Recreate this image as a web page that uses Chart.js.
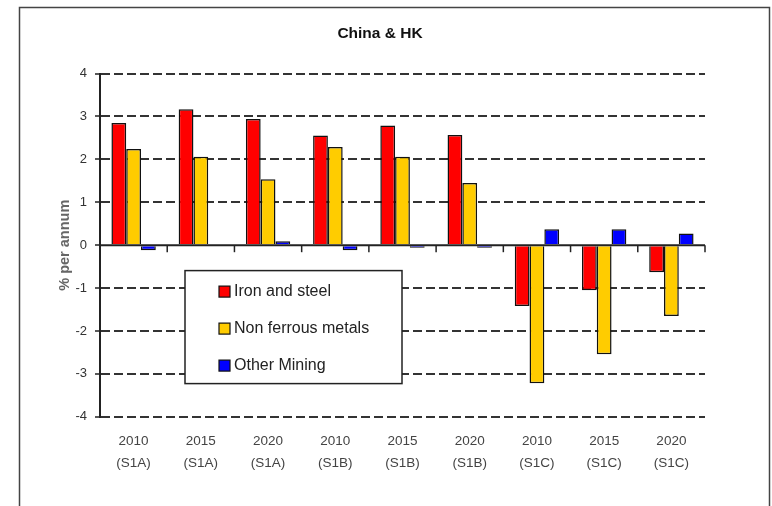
<!DOCTYPE html>
<html>
<head>
<meta charset="utf-8">
<title>China & HK</title>
<script src="https://cdn.jsdelivr.net/npm/chart.js@4/dist/chart.umd.min.js"></script>
<style>
  html, body { margin: 0; padding: 0; background: #ffffff; }
  #wrap { width: 772px; height: 506px; }
</style>
</head>
<body>
<div id="wrap"><canvas id="c" width="772" height="506"></canvas></div>
<script>
// Scenario / year categories (two-line tick labels)
const categories = [
  ['2010', '(S1A)'], ['2015', '(S1A)'], ['2020', '(S1A)'],
  ['2010', '(S1B)'], ['2015', '(S1B)'], ['2020', '(S1B)'],
  ['2010', '(S1C)'], ['2015', '(S1C)'], ['2020', '(S1C)']
];

// Growth rates, % per annum
const ironAndSteel      = [2.85, 3.17, 2.94, 2.56, 2.79, 2.57, -1.42, -1.05, -0.63];
const nonFerrousMetals  = [2.24, 2.06, 1.54, 2.29, 2.06, 1.45, -3.22, -2.54, -1.65];
const otherMining       = [-0.12, 0, 0.09, -0.12, -0.06, -0.06, 0.37, 0.37, 0.27];

const seriesNames = ['Iron and steel', 'Non ferrous metals', 'Other Mining'];
const yTicks = { min: -4, max: 4, step: 1 };

const FONT = '"Liberation Sans", Arial, Helvetica, sans-serif';

// Outer frame around the whole figure
const framePlugin = {
  id: 'frame',
  beforeDraw(chart) {
    const ctx = chart.ctx;
    ctx.save();
    ctx.fillStyle = '#ffffff';
    ctx.fillRect(0, 0, chart.width, chart.height);
    ctx.strokeStyle = '#444444';
    ctx.lineWidth = 1.5;
    ctx.strokeRect(19.5, 7.5, 750, chart.height + 20);
    ctx.restore();
  }
};

// Solid zero line with downward category separators
const zeroAxisPlugin = {
  id: 'zeroAxis',
  afterDatasetsDraw(chart) {
    const { ctx, chartArea, scales } = chart;
    const y0 = scales.y.getPixelForValue(0);
    const xs = scales.x;
    const n = chart.data.labels.length;
    ctx.save();
    ctx.strokeStyle = '#222222';
    ctx.lineWidth = 2;
    ctx.beginPath();
    ctx.moveTo(chartArea.left, y0);
    ctx.lineTo(chartArea.right, y0);
    ctx.stroke();
    ctx.lineWidth = 1.5;
    for (let i = 1; i <= n; i++) {
      const x = i < n
        ? (xs.getPixelForTick(i - 1) + xs.getPixelForTick(i)) / 2
        : chartArea.right;
      ctx.beginPath();
      ctx.moveTo(x, y0);
      ctx.lineTo(x, y0 + 7);
      ctx.stroke();
    }
    ctx.restore();
  }
};

// Boxed legend drawn inside the plot area
const boxLegendPlugin = {
  id: 'boxLegend',
  afterDraw(chart, args, opts) {
    const { ctx, chartArea } = chart;
    const left = chartArea.left + opts.dx;
    const top = chartArea.top + opts.dy;
    ctx.save();
    ctx.fillStyle = '#ffffff';
    ctx.fillRect(left, top, opts.w, opts.h);
    ctx.strokeStyle = '#222222';
    ctx.lineWidth = 1.5;
    ctx.strokeRect(left, top, opts.w, opts.h);
    ctx.font = opts.fontSize + 'px ' + FONT;
    ctx.textBaseline = 'middle';
    chart.data.datasets.forEach((ds, i) => {
      const cy = top + opts.firstRow + i * opts.rowGap;
      const sx = left + opts.boxX;
      ctx.fillStyle = ds.backgroundColor;
      ctx.fillRect(sx, cy - 5.5, 11, 11);
      ctx.strokeStyle = '#111111';
      ctx.lineWidth = 1.2;
      ctx.strokeRect(sx, cy - 5.5, 11, 11);
      ctx.fillStyle = '#222222';
      ctx.fillText(ds.label, sx + 15, cy);
    });
    ctx.restore();
  }
};

const barStyle = { borderColor: '#111111', borderWidth: 1.5 };

new Chart(document.getElementById('c'), {
  type: 'bar',
  data: {
    labels: categories,
    datasets: [
      Object.assign({ label: seriesNames[0], data: ironAndSteel, backgroundColor: '#ff0000' }, barStyle),
      Object.assign({ label: seriesNames[1], data: nonFerrousMetals, backgroundColor: '#ffcc00' }, barStyle),
      Object.assign({ label: seriesNames[2], data: otherMining, backgroundColor: '#0000ff' }, barStyle)
    ]
  },
  options: {
    responsive: false,
    animation: false,
    devicePixelRatio: 1,
    layout: { padding: { left: 55, right: 67, top: 0, bottom: 18 } },
    datasets: { bar: { categoryPercentage: 0.66, barPercentage: 1.0 } },
    plugins: {
      legend: { display: false },
      tooltip: { enabled: false },
      title: {
        display: true,
        text: 'China & HK',
        color: '#111111',
        font: { family: FONT, size: 15.5, weight: 'bold', lineHeight: 1.2 },
        padding: { top: 24, bottom: 31 }
      },
      boxLegend: { dx: 85, dy: 197, w: 217, h: 113, boxX: 34, firstRow: 21, rowGap: 37, fontSize: 16 }
    },
    scales: {
      x: {
        grid: { display: false, drawTicks: false },
        border: { display: false },
        ticks: {
          color: '#444444',
          font: { family: FONT, size: 13.5, lineHeight: 1.6 },
          padding: 14,
          maxRotation: 0,
          autoSkip: false
        }
      },
      y: {
        min: yTicks.min,
        max: yTicks.max,
        afterFit(scale) { scale.width = 45; },
        ticks: {
          stepSize: yTicks.step,
          color: '#333333',
          font: { family: FONT, size: 13 },
          padding: 8
        },
        grid: {
          color: (c) => (c.tick && c.tick.value === 0) ? 'rgba(0,0,0,0)' : '#333333',
          lineWidth: 2,
          tickColor: '#222222',
          tickLength: 5,
          tickWidth: 1.5
        },
        border: { display: true, color: '#222222', width: 2, dash: [9, 4] },
        title: {
          display: true,
          text: '% per annum',
          color: '#666666',
          font: { family: FONT, size: 14.5, weight: 'bold', lineHeight: 1.2 },
          padding: { top: 1, bottom: 0 }
        }
      }
    }
  },
  plugins: [framePlugin, zeroAxisPlugin, boxLegendPlugin]
});
</script>
</body>
</html>
